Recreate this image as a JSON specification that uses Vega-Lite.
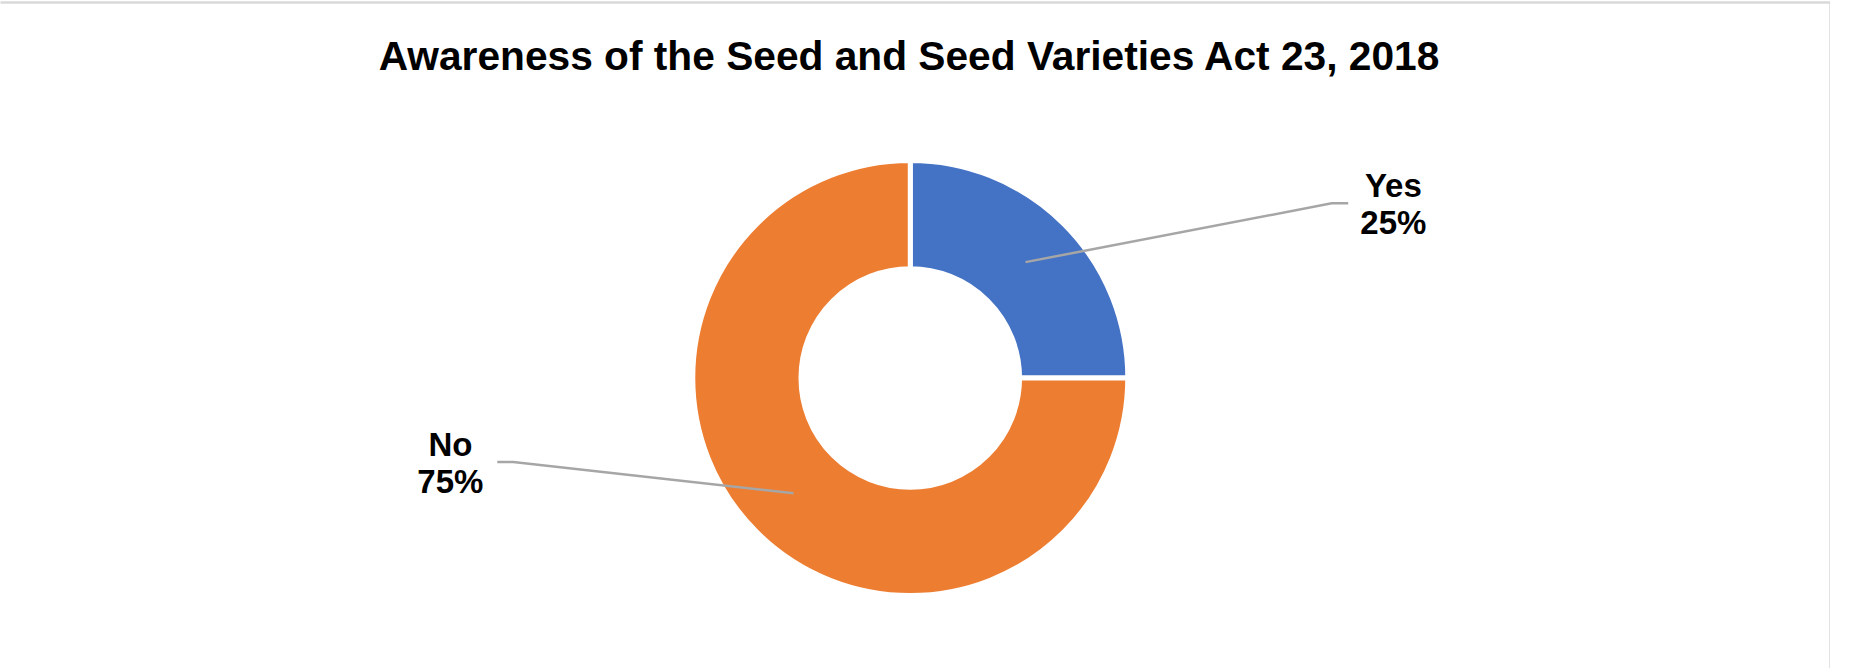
{
  "$schema": "https://vega.github.io/schema/vega-lite/v6.json",
  "autosize": "none",
  "padding": {"top": 2, "left": 0, "right": 0, "bottom": 0},
  "width": 1830,
  "height": 700,
  "background": "white",
  "config": {"view": {"stroke": null}, "font": "Liberation Sans"},
  "title": {
    "text": "Awareness of the Seed and Seed Varieties Act 23, 2018",
    "font": "Liberation Sans",
    "fontSize": 40.7,
    "fontWeight": "bold",
    "color": "#000000",
    "anchor": "middle",
    "baseline": "alphabetic",
    "offset": -67,
    "dy": 42,
    "dx": -6
  },
  "datasets": {
    "awareness": [
      {"category": "Yes", "share": 0.25},
      {"category": "No", "share": 0.75}
    ],
    "leaders": [
      {"category": "Yes", "step": 1, "x": 0.536, "y": 0.539},
      {"category": "Yes", "step": 2, "x": 1.960, "y": 0.8126},
      {"category": "Yes", "step": 3, "x": 2.037, "y": 0.8126},
      {"category": "No", "step": 1, "x": -0.5428, "y": -0.5363},
      {"category": "No", "step": 2, "x": -1.8465, "y": -0.3907},
      {"category": "No", "step": 3, "x": -1.921, "y": -0.3907}
    ],
    "labels": [
      {"category": "Yes", "x": 2.247, "y": 0.756},
      {"category": "No", "x": -2.139, "y": -0.4465}
    ]
  },
  "layer": [
    {
      "data": {"name": "awareness"},
      "mark": {"type": "arc", "outerRadius": 217.5, "innerRadius": 109.3, "stroke": "#ffffff", "strokeWidth": 5},
      "encoding": {
        "theta": {"field": "share", "type": "quantitative", "stack": true},
        "order": {"field": "category", "sort": "descending"},
        "color": {
          "field": "category",
          "type": "nominal",
          "scale": {"domain": ["Yes", "No"], "range": ["#4472C4", "#ED7D31"]},
          "legend": null
        },
        "x": {
          "datum": 0,
          "type": "quantitative",
          "scale": {"domain": [-4.234, 4.278], "nice": false, "zero": false},
          "axis": {"orient": "top", "domain": true, "domainColor": "#d9d9d9", "domainWidth": 2.5, "labels": false, "ticks": false, "grid": false, "title": null}
        },
        "y": {
          "datum": 0,
          "type": "quantitative",
          "scale": {"domain": [-1.507, 1.749], "nice": false, "zero": false},
          "axis": {"orient": "right", "domain": true, "domainColor": "#d9d9d9", "domainWidth": 2.5, "labels": false, "ticks": false, "grid": false, "title": null}
        }
      }
    },
    {
      "data": {"name": "leaders"},
      "mark": {"type": "line", "color": "#a6a6a6", "strokeWidth": 2.5},
      "encoding": {
        "x": {"field": "x", "type": "quantitative"},
        "y": {"field": "y", "type": "quantitative"},
        "detail": {"field": "category"},
        "order": {"field": "step", "type": "quantitative"}
      }
    },
    {
      "data": {"name": "labels"},
      "mark": {"type": "text", "font": "Liberation Sans", "fontSize": 33, "fontWeight": "bold", "color": "#000000", "align": "center", "baseline": "alphabetic", "dy": -18.5},
      "encoding": {
        "x": {"field": "x", "type": "quantitative"},
        "y": {"field": "y", "type": "quantitative"},
        "text": {"field": "category"}
      }
    },
    {
      "data": {"name": "labels"},
      "transform": [
        {"lookup": "category", "from": {"data": {"name": "awareness"}, "key": "category", "fields": ["share"]}}
      ],
      "mark": {"type": "text", "font": "Liberation Sans", "fontSize": 33, "fontWeight": "bold", "color": "#000000", "align": "center", "baseline": "alphabetic", "dy": 18.5},
      "encoding": {
        "x": {"field": "x", "type": "quantitative"},
        "y": {"field": "y", "type": "quantitative"},
        "text": {"field": "share", "type": "quantitative", "format": ".0%"}
      }
    }
  ]
}
